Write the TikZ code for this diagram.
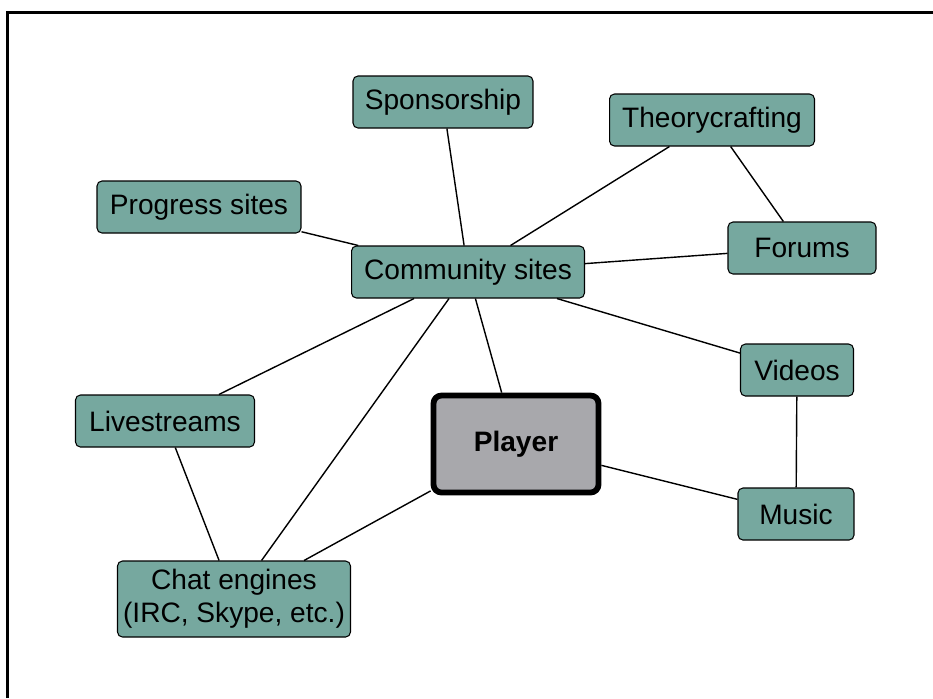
\documentclass[tikz,border=0pt]{standalone}
\usepackage{fontspec}
\setmainfont{Liberation Sans}
\definecolor{topic}{RGB}{118,168,159}
\definecolor{hub}{RGB}{168,168,172}
\begin{document}
\begin{tikzpicture}[x=0.02cm, y=-0.02cm,
	font=\fontsize{16}{19}\selectfont,
	topic/.style={draw, line width=0.6pt, fill=topic, rounded corners=2.8pt,
		align=center, inner sep=0pt, minimum height=1.04cm},
	link/.style={line width=0.8pt}]
	\useasboundingbox (0,0) rectangle (933,698);
	%frame
	\draw[line width=1.3pt] (7.5,698) -- (7.5,12.5) -- (933,12.5);
	%nodes
	\node[topic, minimum width=3.6cm] (sponsor) at (443,102) {Sponsorship};
	\node[topic, minimum width=4.1cm] (theory) at (712,120) {Theorycrafting};
	\node[topic, minimum width=4.08cm] (progress) at (199,207) {Progress sites};
	\node[topic, minimum width=4.66cm] (community) at (468,272) {Community sites};
	\node[topic, minimum width=2.96cm] (forums) at (802,248) {Forums};
	\node[topic, minimum width=2.26cm] (videos) at (797,370) {Videos};
	\node[topic, minimum width=3.58cm] (livestreams) at (165,421) {Livestreams};
	\node[topic, minimum width=2.32cm] (music) at (796,514) {Music};
	\node[topic, minimum width=4.66cm, minimum height=1.52cm] (chat) at (234,599)
	{Chat engines\\(IRC, Skype, etc.)};
	\node[draw, line width=3.3pt, fill=hub, rounded corners=4.5pt,
		minimum width=3.3cm, minimum height=1.94cm, font=\fontsize{16}{19}\selectfont\bfseries]
	(player) at (516,444) {Player};
	%links
	\draw[link] (sponsor) -- (community);
	\draw[link] (theory) -- (community);
	\draw[link] (theory) -- (forums);
	\draw[link] (progress) -- (community);
	\draw[link] (forums) -- (community);
	\draw[link] (community) -- (videos);
	\draw[link] (community) -- (livestreams);
	\draw[link] (community) -- (chat);
	\draw[link] (community) -- (player);
	\draw[link] (livestreams) -- (chat);
	\draw[link] (chat) -- (player);
	\draw[link] (player) -- (music);
	\draw[link] (videos) -- (music);
\end{tikzpicture}
\end{document}
